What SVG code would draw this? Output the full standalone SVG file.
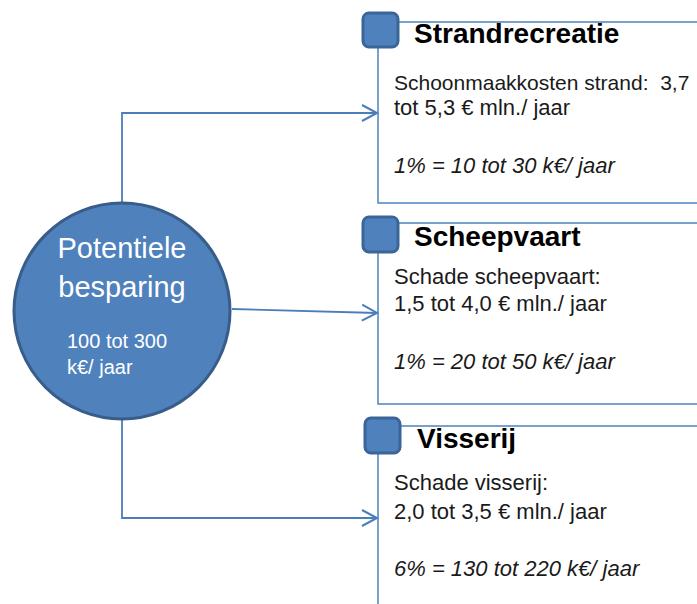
<svg xmlns="http://www.w3.org/2000/svg" width="697" height="604" viewBox="0 0 697 604">
<style>
.conn{fill:none;stroke:#4a7ebb;stroke-width:1.8}
.box{fill:#fff;stroke:#4f81bd;stroke-width:1.5}
.sq{fill:#4f81bd;stroke:#3a6598;stroke-width:3}
.title{font-family:"Liberation Sans",Arial,sans-serif;font-weight:bold;font-size:28px;fill:#000}
.body{font-family:"Liberation Sans",Arial,sans-serif;font-size:22px;fill:#1a1a1a;white-space:pre}
.it{font-style:italic}
.ct{font-family:"Liberation Sans",Arial,sans-serif;fill:#fff}
</style>
<defs>
<marker id="arr" viewBox="0 0 20 20" refX="17" refY="10" markerWidth="20" markerHeight="20" markerUnits="userSpaceOnUse" orient="auto">
<path d="M2,2 L17,10 L2,18" fill="none" stroke="#4a7ebb" stroke-width="2"/>
</marker>
</defs>
<rect width="697" height="604" fill="#fff"/>
<g id="box-strand">
<rect class="box" x="378" y="22" width="340" height="181"/>
<rect class="sq" x="363" y="13" width="35" height="34" rx="6"/>
<text class="title" x="414" y="43">Strandrecreatie</text>
<text class="body" x="394" y="90" style="font-size:21px">Schoonmaakkosten strand:  3,7</text>
<text class="body" x="394" y="115">tot 5,3 € mln./ jaar</text>
<text class="body it" x="394" y="173">1% = 10 tot 30 k€/ jaar</text>
</g>
<g id="box-scheep">
<rect class="box" x="378" y="223" width="340" height="181"/>
<rect class="sq" x="363" y="217" width="35" height="35" rx="6"/>
<text class="title" x="414" y="246">Scheepvaart</text>
<text class="body" x="394" y="284">Schade scheepvaart:</text>
<text class="body" x="394" y="311">1,5 tot 4,0 € mln./ jaar</text>
<text class="body it" x="394" y="369">1% = 20 tot 50 k€/ jaar</text>
</g>
<g id="box-visserij">
<rect class="box" x="378" y="426" width="340" height="200"/>
<rect class="sq" x="365" y="418" width="35" height="35" rx="6"/>
<text class="title" x="417" y="448">Visserij</text>
<text class="body" x="394" y="490">Schade visserij:</text>
<text class="body" x="394" y="519">2,0 tot 3,5 € mln./ jaar</text>
<text class="body it" x="394" y="576">6% = 130 tot 220 k€/ jaar</text>
</g>
<g id="connectors">
<path class="conn" d="M122,202 V113 H377" marker-end="url(#arr)"/>
<path class="conn" d="M232,309 L377,313" marker-end="url(#arr)"/>
<path class="conn" d="M122,420 V518 H377" marker-end="url(#arr)"/>
</g>
<g id="node-besparing">
<circle cx="122" cy="311" r="108" fill="#4f81bd" stroke="#385d8a" stroke-width="3"/>
<text class="ct" x="122" y="258" font-size="29" text-anchor="middle">Potentiele</text>
<text class="ct" x="122" y="297" font-size="29" text-anchor="middle">besparing</text>
<text class="ct" x="67" y="348" font-size="20">100 tot 300</text>
<text class="ct" x="67" y="374" font-size="20">k€/ jaar</text>
</g>
</svg>
